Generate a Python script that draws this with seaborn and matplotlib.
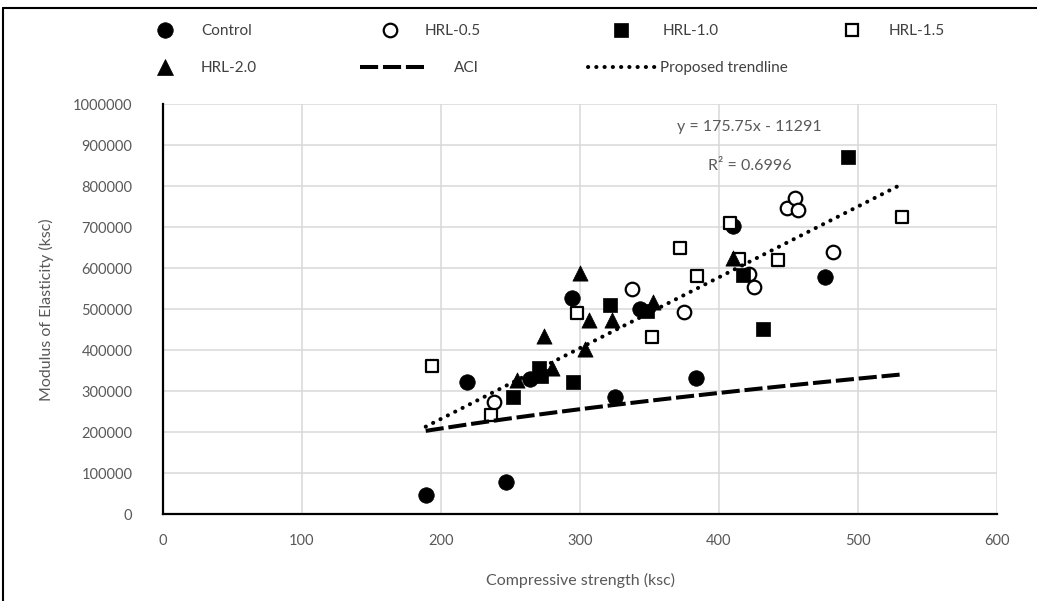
import numpy as np
import pandas as pd
import matplotlib
matplotlib.use("Agg")
import matplotlib.pyplot as plt
import seaborn as sns
from matplotlib.lines import Line2D

# ---------------- data ----------------
control_fc = [189, 218.5, 246.5, 264, 294, 325, 343, 383.5, 409.8, 476.3]
control_E = [47000, 323400, 79500, 329000, 526800, 286800, 501500, 333500, 703200, 579500]

hrl05_fc = [238.1, 337.2, 374.8, 421.3, 425.4, 448.7, 454.7, 457, 482.3]
hrl05_E = [273000, 548800, 492700, 587000, 555100, 746300, 770700, 742200, 640500]

hrl10_fc = [252, 270.5, 272, 295.2, 321.6, 348.2, 417, 431.9, 493]
hrl10_E = [286800, 358000, 338000, 323400, 510500, 495000, 583700, 452000, 872200]

hrl15_fc = [193.8, 236, 297.6, 351.6, 371.9, 384.4, 407.9, 414.6, 442.7, 531.4]
hrl15_E = [361700, 242000, 490200, 431700, 648800, 581200, 710000, 622000, 620200, 724400]

hrl20_fc = [254.4, 274.1, 279.6, 300, 303.6, 306.7, 322.8, 352.8, 410.3]
hrl20_E = [327500, 434900, 356000, 587800, 402400, 473900, 474000, 518500, 624400]

ACI_COEF = 14800            # E = coef * sqrt(fc)
TREND_SLOPE = 1727.0        # proposed trendline as drawn
TREND_INTERCEPT = -112700.0
EQ_TEXT = "y = 175.75x - 11291"
R2_TEXT = "R² = 0.6996"

x_ticks = [0, 100, 200, 300, 400, 500, 600]
y_ticks = [0, 100000, 200000, 300000, 400000, 500000, 600000, 700000, 800000, 900000, 1000000]

groups = ["Control", "HRL-0.5", "HRL-1.0", "HRL-1.5", "HRL-2.0"]
frames = []
for g, xs, ys in zip(groups,
                     [control_fc, hrl05_fc, hrl10_fc, hrl15_fc, hrl20_fc],
                     [control_E, hrl05_E, hrl10_E, hrl15_E, hrl20_E]):
    frames.append(pd.DataFrame({"fc": xs, "E": ys, "group": g}))
df = pd.concat(frames, ignore_index=True)

# ---------------- styling ----------------
W, H, DPI = 1037, 601, 100
sns.set_style("white")
plt.rcParams['font.family'] = ['Lato', 'DejaVu Sans']
TXT = "#595959"

fig = plt.figure(figsize=(W / DPI, H / DPI), dpi=DPI)
ax = fig.add_axes([163 / W, 1 - 514.3 / H, (997 - 163) / W, (514.3 - 104.3) / H])

styles = {
    "Control": dict(marker="o", s=125, color="black", edgecolor="black", linewidth=0.5),
    "HRL-0.5": dict(marker="o", s=95, color="white", edgecolor="black", linewidth=1.6),
    "HRL-1.0": dict(marker="s", s=90, color="black", edgecolor="black", linewidth=0.5),
    "HRL-1.5": dict(marker="s", s=82, color="white", edgecolor="black", linewidth=1.6),
    "HRL-2.0": dict(marker="^", s=120, color="black", edgecolor="black", linewidth=0.5),
}
for g in groups:
    sub = df[df["group"] == g]
    sns.scatterplot(data=sub, x="fc", y="E", ax=ax, legend=False, zorder=3, **styles[g])

ACI_LS = (0, (4.5, 1.2))
TR_LS = (0, (0.05, 2.0))
LW = 2.9

# ACI line
aci_x = np.sort(df["fc"].unique())
aci_y = ACI_COEF * np.sqrt(aci_x)
sns.lineplot(x=aci_x, y=aci_y, ax=ax, color="black", linewidth=LW,
             linestyle=ACI_LS, zorder=4, sort=True, estimator=None)

# Proposed trendline
tr_x = np.array([df["fc"].min(), df["fc"].max()])
tr_y = TREND_SLOPE * tr_x + TREND_INTERCEPT
sns.lineplot(x=tr_x, y=tr_y, ax=ax, color="black", linewidth=LW,
             linestyle=TR_LS, dash_capstyle="round",
             zorder=4, estimator=None)

ax.text(422, 944000, EQ_TEXT, ha="center", va="center", fontsize=11.5, color=TXT, zorder=5)
ax.text(422, 849000, R2_TEXT, ha="center", va="center", fontsize=11.5, color=TXT, zorder=5)

ax.set_xlim(0, 600)
ax.set_ylim(0, 1000000)
ax.set_xticks(x_ticks)
ax.set_yticks(y_ticks)
ax.set_xticklabels([str(v) for v in x_ticks])
ax.set_yticklabels([str(v) for v in y_ticks])
ax.grid(True, color="#D9D9D9", linewidth=1.1, zorder=0)
ax.set_axisbelow(True)
for side in ["top", "right"]:
    ax.spines[side].set_visible(False)
for side in ["left", "bottom"]:
    ax.spines[side].set_color("black")
    ax.spines[side].set_linewidth(1.6)
ax.tick_params(axis="both", length=0, labelsize=10.5, labelcolor=TXT)
ax.tick_params(axis="x", pad=14)
ax.tick_params(axis="y", pad=22)
ax.set_xlabel("Compressive strength (ksc)", fontsize=11.5, color=TXT, labelpad=18)
ax.set_ylabel("Modulus of Elasticity (ksc)", fontsize=11.5, color=TXT, labelpad=14)

# ---------------- legend (one entry per legend to mimic Excel layout) ----------------
FS = 11
fs_px = FS * DPI / 72.0


def add_entry(handle, label, handle_start_px, handle_len_px, text_px, y_px):
    hl = handle_len_px / fs_px
    pad = (text_px - handle_start_px - handle_len_px) / fs_px
    fig.legend(handles=[handle], labels=[label], loc="center left",
               bbox_to_anchor=(handle_start_px / W, 1 - y_px / H),
               frameon=False, borderpad=0, borderaxespad=0, fontsize=FS,
               handlelength=hl, handletextpad=pad, labelcolor="#404040")


def mk(g):
    st = styles[g]
    size = np.sqrt(st["s"])
    return Line2D([], [], linestyle="none", marker=st["marker"], markersize=size,
                  markerfacecolor=st["color"], markeredgecolor="black",
                  markeredgewidth=st["linewidth"])


row1, row2 = 31, 68
mw = 30
add_entry(mk("Control"), "Control", 165 - mw / 2, mw, 201, row1)
add_entry(mk("HRL-0.5"), "HRL-0.5", 390 - mw / 2, mw, 425, row1)
add_entry(mk("HRL-1.0"), "HRL-1.0", 621 - mw / 2, mw, 663, row1)
add_entry(mk("HRL-1.5"), "HRL-1.5", 852 - mw / 2, mw, 889, row1)
add_entry(mk("HRL-2.0"), "HRL-2.0", 165 - mw / 2, mw, 201, row2)
add_entry(Line2D([], [], color="black", linewidth=LW, linestyle=ACI_LS),
          "ACI", 360, 64, 454, row2)
add_entry(Line2D([], [], color="black", linewidth=LW, linestyle=TR_LS,
                 dash_capstyle="round"),
          "Proposed trendline", 588, 70, 660, row2)

# outer frame (top and left edges visible in the reference)
fig.add_artist(Line2D([3 / W, 3 / W], [0, 1 - 8 / H], color="black", linewidth=1.5,
                      transform=fig.transFigure))
fig.add_artist(Line2D([3 / W, 1], [1 - 8 / H, 1 - 8 / H], color="black", linewidth=1.5,
                      transform=fig.transFigure))

fig.savefig("out.png", dpi=DPI)
